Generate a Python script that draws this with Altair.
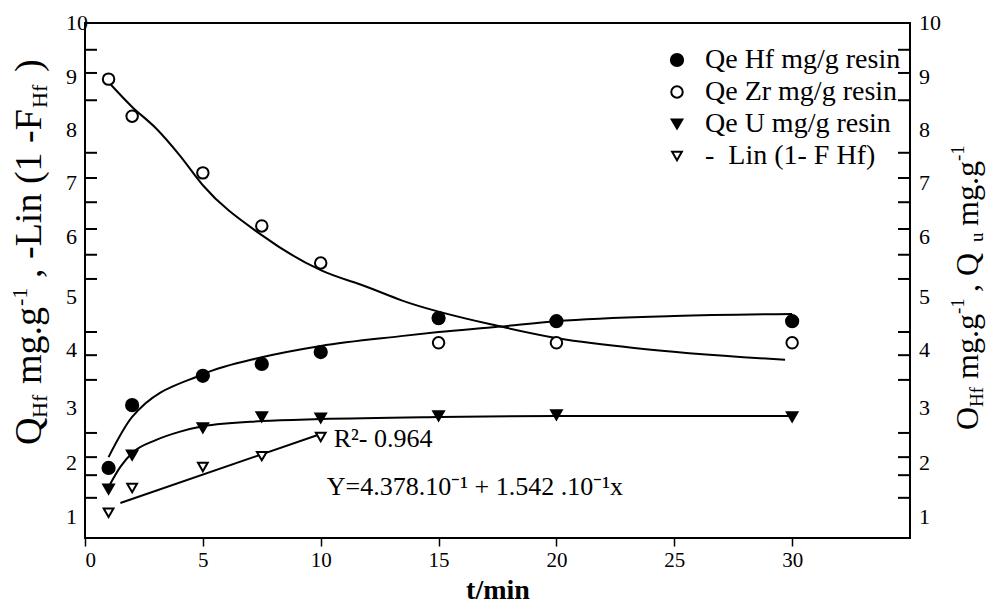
import altair as alt
import pandas as pd

SERIF = "Liberation Serif"

# ---- measured data -------------------------------------------------------
t_main = [1, 2, 5, 7.5, 10, 15, 20, 30]
qe_hf = [1.36, 2.58, 3.15, 3.38, 3.61, 4.27, 4.21, 4.21]
qe_zr = [8.91, 8.19, 7.09, 6.06, 5.34, 3.79, 3.79, 3.79]
qe_u = [0.95, 1.61, 2.14, 2.35, 2.33, 2.37, 2.39, 2.35]
t_lin = [1, 2, 5, 7.5, 10]
lin_hf = [0.49, 0.97, 1.38, 1.59, 1.96]

# fitted curves
hf_fit_t = [1, 2, 5, 7.5, 10, 13.4, 15, 17.5, 20, 25, 30]
hf_fit = [1.57, 2.35, 3.18, 3.51, 3.73, 3.92, 4.00, 4.10, 4.21, 4.31, 4.35]
zr_fit_t = [1, 2, 3, 4, 5, 7.5, 10, 12, 13.4, 17.7, 19.8, 23.3, 29.7]
zr_fit = [8.85, 8.37, 7.96, 7.44, 6.85, 5.88, 5.20, 4.87, 4.62, 4.10, 3.90, 3.69, 3.46]
u_fit_t = [1, 1.5, 2, 3, 4, 5, 7.5, 10, 15, 20, 30]
u_fit = [0.99, 1.38, 1.65, 1.90, 2.06, 2.17, 2.27, 2.31, 2.35, 2.37, 2.37]
lin_fit_t = [1.5, 10]
lin_fit = [0.68, 2.02]

series_names = ["Qe Hf mg/g resin", "Qe Zr mg/g resin", "Qe U mg/g resin",
                "-\u00a0\u00a0Lin (1- F Hf)"]

# vertical axis labels and inner tick marks
y_label_text = ["1", "2", "3", "4", "5", "6", "7", "8", "9", "10"]
y_label_at = [0.41, 1.46, 2.52, 3.65, 4.68, 5.84, 6.89, 7.92, 8.95, 10.0]
y_tick_at = [0.78, 1.22, 1.57, 2.04, 3.07, 3.55, 4.0, 5.03, 5.5, 6.0, 6.52, 6.99, 7.48,
             8.5, 9.03, 9.48]
x_tick_values = [0, 5, 10, 15, 20, 25, 30]

# ---- tables ----------------------------------------------------------------
pts = pd.concat([
    pd.DataFrame({"t": t_main, "v": qe_hf, "series": series_names[0]}),
    pd.DataFrame({"t": t_main, "v": qe_zr, "series": series_names[1]}),
    pd.DataFrame({"t": t_main, "v": qe_u, "series": series_names[2]}),
    pd.DataFrame({"t": t_lin, "v": lin_hf, "series": series_names[3]}),
], ignore_index=True)

fits = pd.concat([
    pd.DataFrame({"t": hf_fit_t, "v": hf_fit, "curve": "hf"}),
    pd.DataFrame({"t": zr_fit_t, "v": zr_fit, "curve": "zr"}),
    pd.DataFrame({"t": u_fit_t, "v": u_fit, "curve": "u"}),
    pd.DataFrame({"t": lin_fit_t, "v": lin_fit, "curve": "lin"}),
], ignore_index=True)

labels_df = pd.DataFrame({"txt": y_label_text, "at": y_label_at})
ticks_df = pd.DataFrame({"at": y_tick_at})

W, H = 825, 515
xs = alt.Scale(domain=[0, 35], nice=False, zero=False)
ys = alt.Scale(domain=[0, 10], nice=False, zero=False)

x_axis = alt.Axis(values=x_tick_values, title="t/min", titleFont=SERIF, titleFontSize=28,
                  titleFontWeight="bold", titleColor="black", titlePadding=6,
                  labelFont=SERIF, labelFontSize=21, labelColor="black", labelPadding=3,
                  tickSize=8, tickWidth=1.5, tickColor="black", domain=False, grid=False,
                  format="d")

legend = alt.Legend(title=None, orient="none", legendX=578, legendY=23, padding=0,
                    rowPadding=4, labelFont=SERIF, labelFontSize=28, labelColor="black",
                    labelOffset=14, symbolStrokeWidth=2, labelLimit=400)

fit_lines = alt.Chart(fits).mark_line(color="black", strokeWidth=2, interpolate="monotone").encode(
    x=alt.X("t:Q", scale=xs, axis=x_axis),
    y=alt.Y("v:Q", scale=ys, axis=None),
    detail="curve:N",
)

points = alt.Chart(pts).mark_point(filled=True, strokeWidth=2, opacity=1).encode(
    x=alt.X("t:Q", scale=xs, axis=x_axis),
    y=alt.Y("v:Q", scale=ys, axis=None),
    shape=alt.Shape("series:N", legend=legend,
                    scale=alt.Scale(domain=series_names,
                                    range=["circle", "circle", "triangle-down", "triangle-down"])),
    fill=alt.Fill("series:N", legend=legend,
                  scale=alt.Scale(domain=series_names, range=["black", "white", "black", "white"])),
    stroke=alt.Stroke("series:N", legend=legend,
                      scale=alt.Scale(domain=series_names, range=["black"] * 4)),
    size=alt.Size("series:N", legend=legend,
                  scale=alt.Scale(domain=series_names, range=[150, 95, 170, 120])),
)

left_ticks = alt.Chart(ticks_df).mark_rule(color="black", strokeWidth=2).encode(
    x=alt.value(0), x2=alt.value(12), y=alt.Y("at:Q", scale=ys, axis=None))
right_ticks = alt.Chart(ticks_df).mark_rule(color="black", strokeWidth=2).encode(
    x=alt.value(W - 12), x2=alt.value(W), y=alt.Y("at:Q", scale=ys, axis=None))

left_labels = alt.Chart(labels_df).mark_text(font=SERIF, fontSize=22, align="left",
                                            baseline="middle", color="black").encode(
    x=alt.value(-19), y=alt.Y("at:Q", scale=ys, axis=None), text="txt:N")
right_labels = alt.Chart(labels_df).mark_text(font=SERIF, fontSize=22, align="left",
                                             baseline="middle", color="black").encode(
    x=alt.value(W + 9), y=alt.Y("at:Q", scale=ys, axis=None), text="txt:N")


def note(txt, t, v, size):
    return alt.Chart(pd.DataFrame({"s": [txt]})).mark_text(
        font=SERIF, fontSize=size, align="left", baseline="alphabetic", color="black"
    ).encode(x=alt.datum(t), y=alt.datum(v), text="s:N")


r2_note = note("R\u00b2- 0.964", 10.55, 1.77, 26)
eq_note = note("Y=4.378.10\u207b\u00b9 + 1.542 .10\u207b\u00b9x", 10.26, 0.83, 26)


def piece(txt, x_abs, y_abs, size):
    # rotated title fragment, positioned in the page frame
    return alt.Chart(pd.DataFrame({"s": [txt]})).mark_text(
        font=SERIF, fontSize=size, angle=270, align="left", baseline="alphabetic", color="black"
    ).encode(x=alt.value(x_abs - 85), y=alt.value(y_abs - 23), text="s:N")


# Q_Hf mg.g^-1 , -Lin (1 -F_Hf )
left_title = [
    piece("Q", 41, 445, 38),
    piece("Hf", 47, 418, 22),
    piece("mg.g", 41, 384, 38),
    piece("-1", 27, 306, 22),
    piece(", -Lin (1 -F", 41, 278, 38),
    piece("Hf", 47, 108, 22),
    piece(")", 41, 72, 38),
]
# O_Hf mg.g^-1 , Q_u mg.g^-1
right_title = [
    piece("O", 978, 430, 32),
    piece("Hf", 983, 407, 19),
    piece("mg.g", 978, 379, 32),
    piece("-1", 964, 314, 19),
    piece(",  Q", 978, 292, 32),
    piece("u", 983, 242, 19),
    piece("mg.g", 978, 226, 32),
    piece("-1", 964, 161, 19),
]

chart = alt.layer(
    fit_lines, points, left_ticks, right_ticks, left_labels, right_labels,
    r2_note, eq_note, *left_title, *right_title,
).properties(
    width=W, height=H, background="white",
    padding={"left": 85, "top": 23, "right": 79, "bottom": 73},
    autosize=alt.AutoSizeParams(type="none"),
).configure_view(
    stroke="black", strokeWidth=2
)

chart.save("out.html", embed_options={"renderer": "svg", "actions": False})
